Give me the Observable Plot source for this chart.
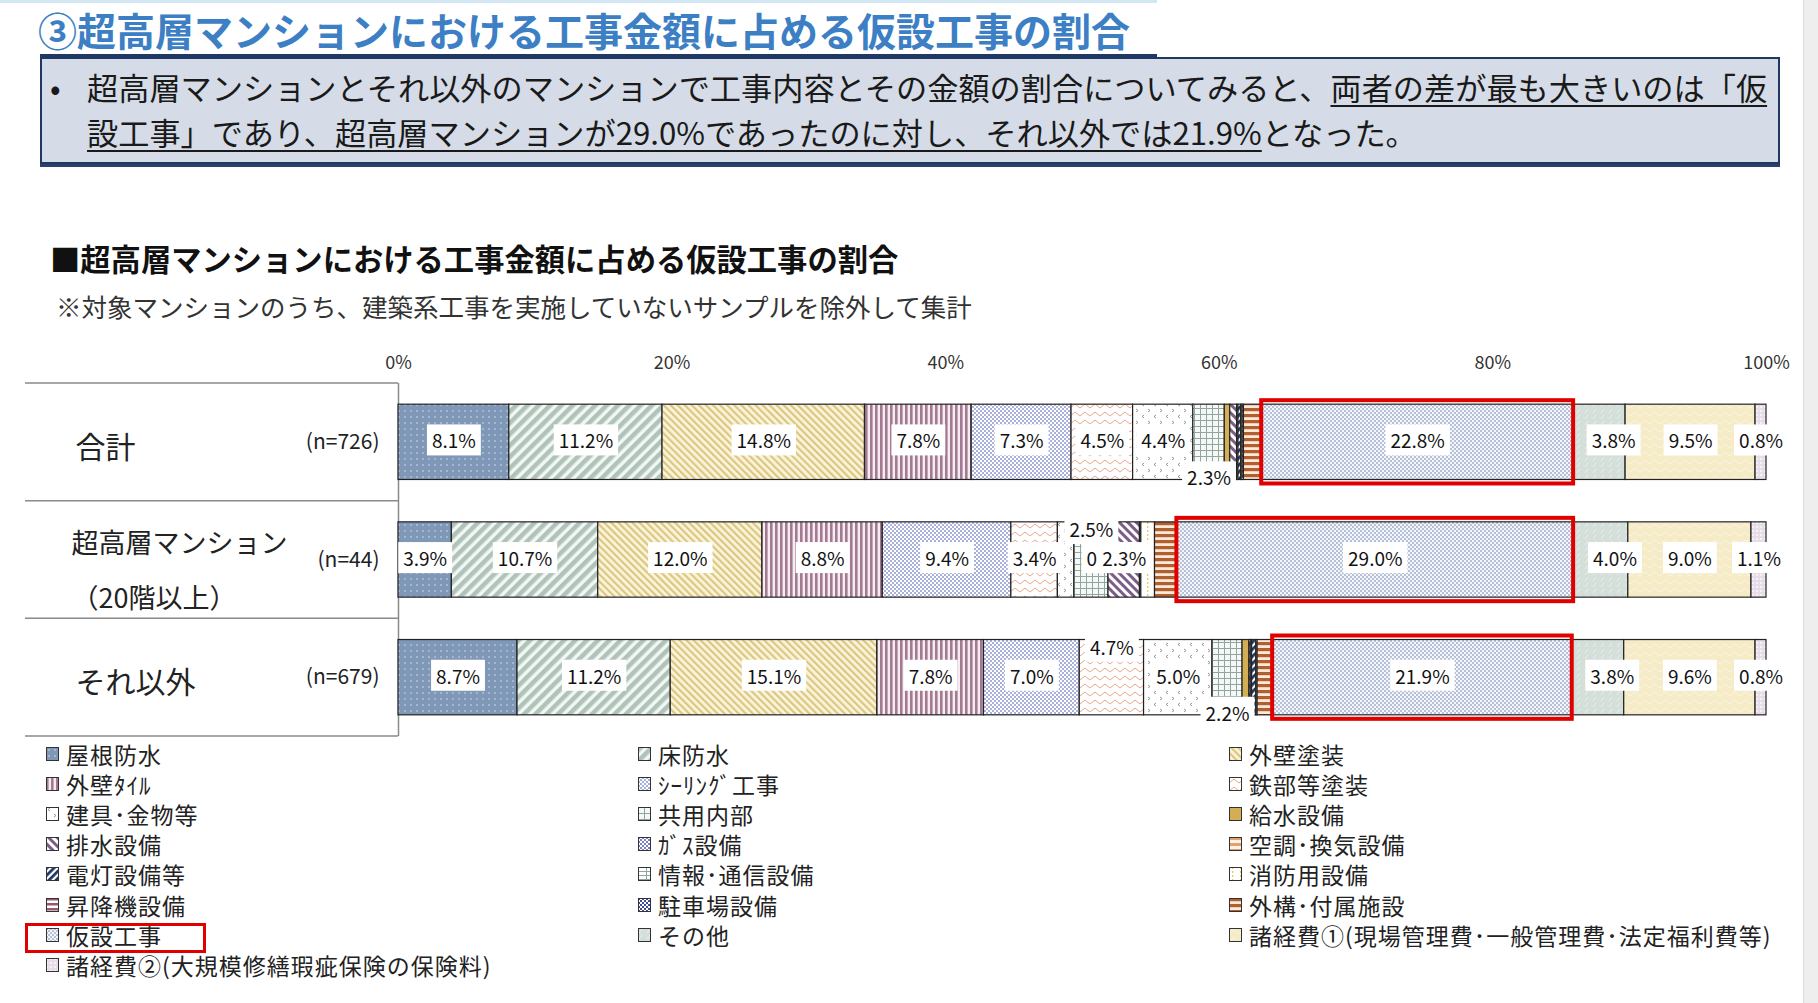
<!DOCTYPE html>
<html><head><meta charset="utf-8">
<script src="https://cdn.jsdelivr.net/npm/d3@7"></script>
<script src="https://cdn.jsdelivr.net/npm/@observablehq/plot@0.6"></script>
<style>
html,body{margin:0;padding:0;background:#fff;}
body{width:1818px;height:1003px;position:relative;overflow:hidden;font-family:"Noto Sans CJK JP","Noto Sans",sans-serif;color:#222;}
.abs{position:absolute;white-space:nowrap;}
#topline{left:0;top:0;width:1157px;height:3px;background:#D3E6F3;}
#title{left:38px;top:5px;font-size:39px;line-height:48px;font-weight:700;color:#3D7FC4;}
#box{left:40px;top:57px;width:1736px;height:103px;background:#D5DCE7;border:2px solid #1F3864;box-shadow:0 3px 0 #2B406B;}
#titlebar{left:40px;top:54px;width:1117px;height:4px;background:#1F3864;}
.bl{font-size:31.2px;line-height:44px;color:#1a1a1a;}
.ul{text-decoration:underline;text-decoration-thickness:2px;text-underline-offset:5px;}
#ctitle{left:50px;top:240px;font-size:30.3px;line-height:36px;font-weight:700;color:#111;}
#note{left:56px;top:292px;font-size:25.5px;line-height:28px;color:#333;}
#chart{position:absolute;left:0;top:330px;}
.lg{position:absolute;height:30px;display:flex;align-items:center;font-size:23px;line-height:26px;letter-spacing:1px;color:#222;white-space:nowrap;}
.lg span{display:inline-block;height:26px;line-height:26px;overflow:visible;}
.lg svg{margin-right:7px;flex:none;}
#lgbox{left:25px;top:923px;width:181px;height:30px;border:3px solid #E00000;box-sizing:border-box;}
#strip{left:1803px;top:0;width:15px;height:1003px;background:#EEEEEE;border-left:1px solid #dcdcdc;}
</style></head>
<body>
<svg width="0" height="0" style="position:absolute"><defs>
<pattern id="p0" width="6" height="6" patternUnits="userSpaceOnUse"><rect width="6" height="6" fill="#8098B8"/><circle cx="3" cy="3" r="0.7" fill="#E6ECF4"/></pattern>
<pattern id="p1" width="8" height="8" patternUnits="userSpaceOnUse" patternTransform="rotate(45)"><rect width="8" height="8" fill="#F2F6F4"/><rect width="4.5" height="8" fill="#AFC3B9"/></pattern>
<pattern id="p2" width="5" height="5" patternUnits="userSpaceOnUse" patternTransform="rotate(-45)"><rect width="5" height="5" fill="#FBF4DC"/><rect width="2.2" height="5" fill="#DCC781"/></pattern>
<pattern id="p3" width="5" height="5" patternUnits="userSpaceOnUse"><rect width="5" height="5" fill="#F6ECF1"/><rect width="2.6" height="5" fill="#A27B93"/></pattern>
<pattern id="p4" width="4" height="4" patternUnits="userSpaceOnUse"><rect width="4" height="4" fill="#fff"/><rect width="2" height="2" fill="#A9B1DB"/><rect x="2" y="2" width="2" height="2" fill="#A9B1DB"/></pattern>
<pattern id="p5" width="10" height="8" patternUnits="userSpaceOnUse"><rect width="10" height="8" fill="#fff"/><path d="M0,6 L5,2 L10,6" fill="none" stroke="#E6A88F" stroke-width="1"/></pattern>
<pattern id="p6" width="12" height="12" patternUnits="userSpaceOnUse"><rect width="12" height="12" fill="#fff"/><path d="M4,1 L2,2.5 L4,4 M8,7 L10,8.5 L8,10" fill="none" stroke="#8c8c8c" stroke-width="0.9"/></pattern>
<pattern id="p7" width="6" height="6" patternUnits="userSpaceOnUse"><rect width="6" height="6" fill="#F5F8F6"/><path d="M0,0.5 H6 M0.5,0 V6" stroke="#8FA79C" stroke-width="1"/></pattern>
<pattern id="p8" width="4" height="4" patternUnits="userSpaceOnUse"><rect width="4" height="4" fill="#D3AE55"/></pattern>
<pattern id="p9" width="6" height="6" patternUnits="userSpaceOnUse" patternTransform="rotate(-45)"><rect width="6" height="6" fill="#fff"/><rect width="3" height="6" fill="#7C5D86"/></pattern>
<pattern id="p10" width="4" height="4" patternUnits="userSpaceOnUse"><rect width="4" height="4" fill="#fff"/><rect width="2" height="2" fill="#7A80C4"/><rect x="2" y="2" width="2" height="2" fill="#7A80C4"/></pattern>
<pattern id="p11" width="6" height="6" patternUnits="userSpaceOnUse"><rect width="6" height="6" fill="#FDF1E6"/><rect width="6" height="3" fill="#E2A070"/></pattern>
<pattern id="p12" width="5" height="5" patternUnits="userSpaceOnUse" patternTransform="rotate(45)"><rect width="5" height="5" fill="#fff"/><rect width="2.8" height="5" fill="#1E3866"/></pattern>
<pattern id="p13" width="8" height="4" patternUnits="userSpaceOnUse"><rect width="8" height="4" fill="#fff"/><path d="M0,0.5 H8 M0.5,0 V4" stroke="#8FA79C" stroke-width="1"/></pattern>
<pattern id="p14" width="8" height="4" patternUnits="userSpaceOnUse"><rect width="8" height="4" fill="#fff"/><rect x="3" y="0" width="1.3" height="2" fill="#E0CC62"/></pattern>
<pattern id="p15" width="5" height="5" patternUnits="userSpaceOnUse"><rect width="5" height="5" fill="#fff"/><rect width="5" height="2.5" fill="#9C5670"/></pattern>
<pattern id="p16" width="4" height="4" patternUnits="userSpaceOnUse"><rect width="4" height="4" fill="#fff"/><rect width="2" height="2" fill="#3C4C96"/><rect x="2" y="2" width="2" height="2" fill="#3C4C96"/></pattern>
<pattern id="p17" width="6" height="6" patternUnits="userSpaceOnUse"><rect width="6" height="6" fill="#FCE9DA"/><rect width="6" height="3.2" fill="#B0602E"/></pattern>
<pattern id="p18" width="4" height="4" patternUnits="userSpaceOnUse"><rect width="4" height="4" fill="#F4F6FA"/><rect width="2" height="2" fill="#B6C0D7"/><rect x="2" y="2" width="2" height="2" fill="#B6C0D7"/></pattern>
<pattern id="p19" width="8" height="6" patternUnits="userSpaceOnUse"><rect width="8" height="6" fill="#D5DFDA"/><path d="M1,5 L4,1" stroke="#EAF0ED" stroke-width="1"/></pattern>
<pattern id="p20" width="10" height="8" patternUnits="userSpaceOnUse"><rect width="10" height="8" fill="#F6EBC7"/><path d="M0,6 L5,2 L10,6" fill="none" stroke="#FBF5E3" stroke-width="1"/></pattern>
<pattern id="p21" width="4" height="4" patternUnits="userSpaceOnUse"><rect width="4" height="4" fill="#E6DDE9"/><rect width="2" height="2" fill="#F5F1F6"/></pattern>
</defs></svg>

<div class="abs" id="topline"></div>
<div class="abs" id="title">③超高層マンションにおける工事金額に占める仮設工事の割合</div>
<div class="abs" id="box"></div>
<div class="abs" id="titlebar"></div>
<div class="abs bl" style="left:50px;top:65px;">•</div>
<div class="abs bl" style="left:87px;top:65px;">超高層マンションとそれ以外のマンションで工事内容とその金額の割合についてみると、<span class="ul">両者の差が最も大きいのは「仮</span></div>
<div class="abs bl" style="left:87px;top:110px;"><span class="ul">設工事」であり、超高層マンションが29.0%であったのに対し、それ以外では21.9%</span>となった。</div>
<div class="abs" id="ctitle">■超高層マンションにおける工事金額に占める仮設工事の割合</div>
<div class="abs" id="note">※対象マンションのうち、建築系工事を実施していないサンプルを除外して集計</div>
<div id="chart"></div>
<div id="legend"></div>
<div class="abs" id="lgbox"></div>
<div class="abs" id="strip"></div>

<script>
const categories = ["屋根防水","床防水","外壁塗装","外壁ﾀｲﾙ","ｼｰﾘﾝｸﾞ工事","鉄部等塗装","建具･金物等","共用内部","給水設備","排水設備","ｶﾞｽ設備","空調･換気設備","電灯設備等","情報･通信設備","消防用設備","昇降機設備","駐車場設備","外構･付属施設","仮設工事","その他","諸経費①(現場管理費･一般管理費･法定福利費等)","諸経費②(大規模修繕瑕疵保険の保険料)"];
const groupKeys = ["合計","超高層マンション\n（20階以上）","それ以外"];
const groupN = ["(n=726)","(n=44)","(n=679)"];
const totalValues    = [8.1,11.2,14.8,7.8,7.3,4.5,4.4,2.3,0.4,0.5,0.0,0.1,0.2,0.1,0.0,0.1,0.0,1.3,22.8,3.8,9.5,0.8];
const highRiseValues = [3.9,10.7,12.0,8.8,9.4,3.4,1.2,2.5,0.0,2.3,0.0,0.0,0.1,0.0,1.0,0.0,0.0,1.6,29.0,4.0,9.0,1.1];
const otherValues    = [8.7,11.2,15.1,7.8,7.0,4.7,5.0,2.2,0.5,0.1,0.0,0.1,0.3,0.1,0.0,0.0,0.0,1.1,21.9,3.8,9.6,0.8];
// label placement: i = inside, r = inside shifted right, a = above, b = below, "" = none
const totalLabelPos    = ["i","i","i","i","i","i","i","b","","","","","","","","","","","i","r","i","i"];
const highRiseLabelPos = ["i","i","i","i","i","i","","a","i","i","","","","","","","","","i","r","i","i"];
const otherLabelPos    = ["i","i","i","i","i","a","i","b","","","","","","","","","","","i","r","i","i"];
const xTicks = [0,20,40,60,80,100];
const highlightCategory = "仮設工事";

const patternIds = categories.map((c,i)=>"url(#p"+i+")");
const seriesValues = [totalValues, highRiseValues, otherValues];
const seriesPos = [totalLabelPos, highRiseLabelPos, otherLabelPos];
const rows = [];
groupKeys.forEach((g,gi)=>{
  let acc = 0;
  categories.forEach((c,ci)=>{
    const v = seriesValues[gi][ci];
    rows.push({group:g, cat:c, value:v, x1:acc, x2:acc+v, mid:acc+v/2, pos:seriesPos[gi][ci], label:v.toFixed(1)+"%"});
    acc += v;
  });
});

const labelMark = (pos, dx, dy) => Plot.text(rows.filter(d=>d.pos===pos), {x:"mid", y:"group", text:"label", dx, dy, fontSize:19, fill:"#111"});

const plot = Plot.plot({
  width:1818, height:420, marginTop:53, marginBottom:14, marginLeft:398, marginRight:52,
  style:{fontFamily:'"Noto Sans CJK JP", "Noto Sans", sans-serif', fontSize:"18px", color:"#333", background:"transparent", overflow:"visible"},
  x:{domain:[0,100], axis:"top", ticks:xTicks, tickFormat:d=>d+"%", tickSize:0, tickPadding:15, label:null},
  y:{domain:groupKeys, axis:null, paddingInner:0.36, paddingOuter:0.18, round:false},
  color:{domain:categories, range:patternIds, legend:false},
  marks:[
    Plot.ruleX([0], {stroke:"#8a8a8a", strokeWidth:1.5}),
    Plot.barX(rows, {x1:"x1", x2:"x2", y:"group", fill:"cat", stroke:"#222", strokeWidth:1.2}),
    Plot.barX(rows.filter(d=>d.cat===highlightCategory), {x1:"x1", x2:"x2", y:"group", fill:"none", stroke:"#E00000", strokeWidth:4, insetTop:-4, insetBottom:-4}),
    labelMark("i", 0, 0),
    labelMark("r", 14, 0),
    labelMark("a", 0, -29),
    labelMark("b", 0, 37),
    Plot.text(groupKeys.filter(g=>!g.includes("\n")), {y:d=>d, text:d=>d, frameAnchor:"left", dx:-323, dy:6, textAnchor:"start", fontSize:30, fill:"#222"}),
    Plot.text(groupKeys.filter(g=>g.includes("\n")), {y:d=>d, text:d=>d, frameAnchor:"left", dx:-327, dy:3, textAnchor:"start", fontSize:27, lineHeight:2.05, fill:"#222"}),
    Plot.text(groupKeys, {y:d=>d, text:d=>groupN[groupKeys.indexOf(d)], frameAnchor:"left", dx:-19, textAnchor:"end", fontSize:21, fill:"#222"})
  ]
});
document.getElementById("chart").appendChild(plot);

// white boxes behind segment labels
plot.querySelectorAll('g[aria-label="text"] text').forEach(t=>{
  if (!/%$/.test(t.textContent)) return;
  const b = t.getBBox();
  const r = document.createElementNS("http://www.w3.org/2000/svg","rect");
  r.setAttribute("x", b.x-5); r.setAttribute("y", b.y-2);
  r.setAttribute("width", b.width+10); r.setAttribute("height", b.height+4);
  r.setAttribute("fill", "#fff");
  if (t.getAttribute("transform")) r.setAttribute("transform", t.getAttribute("transform"));
  t.parentNode.insertBefore(r, t);
});

// table lines on the left, at band boundaries of the y scale
const ys = plot.scale("y");
const bw = ys.bandwidth;
const step = ys.step || bw/(1-0.36);
const tops = groupKeys.map(k => ys.apply(k) - (step-bw)/2);
tops.push(tops[tops.length-1] + step);
const tg = d3.select(plot).append("g").attr("stroke","#8a8a8a").attr("stroke-width",1.5);
tops.forEach(y => tg.append("line").attr("x1",25).attr("x2",398).attr("y1",y).attr("y2",y));

// legend (3 columns, row-major)
const legend = document.getElementById("legend");
const colX = [46, 638, 1229];
categories.forEach((c,i)=>{
  const item = document.createElement("div");
  item.className = "lg";
  item.style.left = colX[i%3] + "px";
  item.style.top = (739 + Math.floor(i/3)*30.1) + "px";
  item.innerHTML = `<svg width="13" height="14"><rect x="0.5" y="0.5" width="12" height="13" fill="${patternIds[i]}" stroke="#333" stroke-width="1"/></svg><span>${c}</span>`;
  legend.appendChild(item);
});
</script>
</body></html>
